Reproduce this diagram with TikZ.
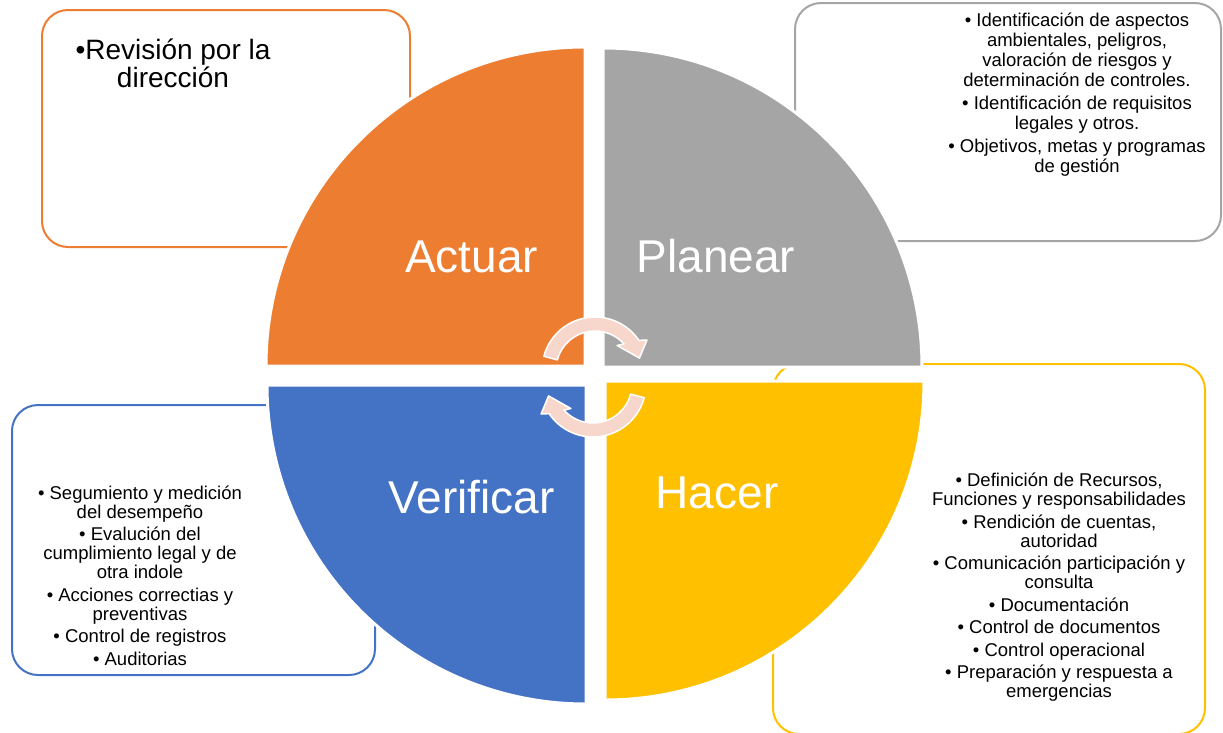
\documentclass[tikz,border=0pt]{standalone}
\usepackage{fontspec}
\setmainfont{Liberation Sans}
\usepackage{tikz}

\definecolor{actuar}{HTML}{ED7D31}
\definecolor{planear}{HTML}{A5A5A5}
\definecolor{verificar}{HTML}{4472C4}
\definecolor{hacer}{HTML}{FFC000}
\definecolor{ciclo}{HTML}{F7D7CC}

\tikzset{
  caja/.style={line width=2pt, rounded corners=26pt},
  cuadrante/.style={draw=white, line width=3pt},
  etapa/.style={text=white, font=\fontsize{46}{50}\selectfont, anchor=base, inner sep=0pt},
  lista/.style={align=center, inner sep=0pt, font=\fontsize{18.5}{19}\selectfont},
  flecha/.style={fill=ciclo, draw=white, line width=1.5pt, line join=round}
}

\begin{document}
\begin{tikzpicture}[x=1pt,y=1pt]
  \useasboundingbox (0,0) rectangle (1223,-732);

  % cajas de texto
  \draw[caja, actuar] (42,-10) rectangle (410,-247);
  \draw[caja, planear] (795,-3) rectangle (1221,-241);
  \draw[caja, verificar] (12,-405) rectangle (375,-675);
  \draw[caja, hacer] (773,-364) rectangle (1205,-734);

  % cuadrantes del ciclo
  \path[cuadrante, fill=actuar] (585,-366) -- (266,-366) arc[start angle=180, end angle=90, radius=319] -- cycle;
  \path[cuadrante, fill=planear] (603,-367) -- (922,-367) arc[start angle=0, end angle=90, radius=319] -- cycle;
  \path[cuadrante, fill=verificar] (586,-385) -- (586,-704) arc[start angle=270, end angle=180, radius=319] -- cycle;
  \path[cuadrante, fill=hacer] (605,-381) -- (924,-381) arc[start angle=0, end angle=-90, radius=319] -- cycle;

  \node[etapa] (actuar) at (471.5,-272) {Actuar};
  \node[etapa] (planear) at (716,-272) {Planear};
  \node[etapa] (verificar) at (471.5,-513) {Verificar};
  \node[etapa] (hacer) at (717,-508) {Hacer};

  % flechas circulares
  \coordinate (giro1) at (595,-370);
  \coordinate (giro2) at (593,-384);
  \foreach \centro/\g in {giro1/0, giro2/180}
    \path[flecha] ([shift={(\centro)}]165+\g:53) arc[start angle=165+\g, end angle=34+\g, radius=53]
      -- ([shift={(\centro)}]30+\g:60) -- ([shift={(\centro)}]15+\g:46) -- ([shift={(\centro)}]48+\g:33)
      -- ([shift={(\centro)}]42+\g:39) arc[start angle=42+\g, end angle=165+\g, radius=39] -- cycle;

  % listas
  \node[lista, font=\fontsize{28}{28}\selectfont] (revision) at (173,-63.8) {•Revisión por la\\dirección};
  \node[lista, font=\fontsize{18.5}{20}\selectfont] (planes) at (1077,-94.7) {%
    • Identificación de aspectos\\ambientales, peligros,\\valoración de riesgos y\\determinación de controles.\\[3pt]
    • Identificación de requisitos\\legales y otros.\\[3pt]
    • Objetivos, metas y programas\\de gestión};
  \node[lista] (revisar) at (140,-575.3) {%
    • Segumiento y medición\\del desempeño\\[3.5pt]
    • Evalución del\\cumplimiento legal y de\\otra indole\\[3.5pt]
    • Acciones correctias y\\preventivas\\[3.5pt]
    • Control de registros\\[3.5pt]
    • Auditorias};
  \node[lista] (tareas) at (1059,-587.2) {%
    • Definición de Recursos,\\Funciones y responsabilidades\\[3.5pt]
    • Rendición de cuentas,\\autoridad\\[3.5pt]
    • Comunicación participación y\\consulta\\[3.5pt]
    • Documentación\\[3.5pt]
    • Control de documentos\\[3.5pt]
    • Control operacional\\[3.5pt]
    • Preparación y respuesta a\\emergencias};
\end{tikzpicture}
\end{document}
